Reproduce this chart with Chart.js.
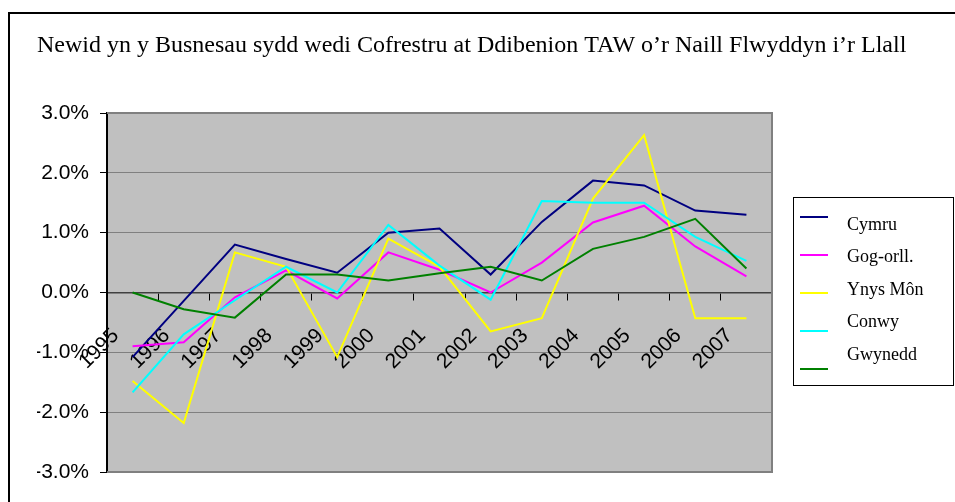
<!doctype html>
<html lang="cy">

<head>
  <meta charset="utf-8">
  <title>Newid yn y Busnesau TAW</title>
  <style>
    html, body { margin: 0; padding: 0; background: #fff; }
    canvas { display: block; }
  </style>
</head>

<body>
  <canvas id="myChart" width="955" height="502"></canvas>

  <script src="https://cdn.jsdelivr.net/npm/chart.js@4.4.2/dist/chart.umd.min.js"></script>

  <script>
    const ctx = document.getElementById('myChart');

    const years = ['1995', '1996', '1997', '1998', '1999', '2000', '2001', '2002', '2003', '2004', '2005', '2006', '2007'];

    // % change year on year
    const cymru    = [-1.08, -0.14, 0.80, 0.56, 0.33, 1.00, 1.07, 0.30, 1.18, 1.87, 1.79, 1.37, 1.30];
    const gogOrll  = [-0.90, -0.83, -0.08, 0.37, -0.10, 0.67, 0.38, 0.00, 0.50, 1.17, 1.45, 0.77, 0.27];
    const ynysMon  = [-1.48, -2.18, 0.67, 0.43, -1.08, 0.90, 0.43, -0.65, -0.43, 1.57, 2.63, -0.43, -0.43];
    const conwy    = [-1.67, -0.70, -0.13, 0.43, 0.00, 1.13, 0.45, -0.12, 1.53, 1.50, 1.50, 0.93, 0.53];
    const gwynedd  = [0.00, -0.28, -0.42, 0.30, 0.30, 0.20, 0.32, 0.43, 0.20, 0.73, 0.93, 1.23, 0.40];

    const seriesNames = ['Cymru', 'Gog-orll.', 'Ynys Môn', 'Conwy', 'Gwynedd'];
    const seriesColours = ['#000080', '#ff00ff', '#ffff00', '#00ffff', '#008000'];

    const title = 'Newid yn y Busnesau sydd wedi Cofrestru at Ddibenion TAW o\u2019r Naill Flwyddyn i\u2019r Llall';

    // grey plot area, outer frame and title, like the old Excel chart
    // (title drawn here: the built-in one gets squeezed into the plot width)
    const framePlugin = {
      id: 'frame',
      beforeDraw(chart) {
        const c = chart.ctx;
        const a = chart.chartArea;
        c.save();
        c.fillStyle = '#fff';
        c.fillRect(0, 0, chart.width, chart.height);
        c.strokeStyle = '#000';
        c.lineWidth = 2;
        c.strokeRect(9, 13, chart.width + 20, chart.height + 20);
        c.fillStyle = '#c0c0c0';
        c.fillRect(a.left, a.top, a.right - a.left, a.bottom - a.top);
        c.fillStyle = '#000';
        c.font = '24px "Liberation Serif", "Times New Roman", serif';
        c.textBaseline = 'alphabetic';
        c.fillText(title, 37, 52);
        c.restore();
      },
      beforeDatasetsDraw(chart) {
        const c = chart.ctx;
        const a = chart.chartArea;
        c.save();
        c.strokeStyle = '#808080';
        c.lineWidth = 2;
        c.beginPath();
        c.moveTo(a.left, a.top);
        c.lineTo(a.right, a.top);
        c.lineTo(a.right, a.bottom);
        c.lineTo(a.left, a.bottom);
        c.stroke();
        c.restore();
      }
    };

    // boxed legend on the right
    const legendBox = {
      id: 'legendBox',
      afterDraw(chart) {
        const c = chart.ctx;
        c.save();
        c.fillStyle = '#fff';
        c.fillRect(793, 197, 160, 188);
        c.strokeStyle = '#000';
        c.lineWidth = 1;
        c.strokeRect(793.5, 197.5, 160, 188);
        c.font = '18px "Liberation Serif", "Times New Roman", serif';
        c.textBaseline = 'middle';
        c.fillStyle = '#000';
        chart.data.datasets.forEach((ds, i) => {
          const ly = 217 + 38 * i;
          c.strokeStyle = ds.borderColor;
          c.lineWidth = 2;
          c.beginPath();
          c.moveTo(800, ly);
          c.lineTo(828, ly);
          c.stroke();
          c.fillText(ds.label, 847, 225 + 32.5 * i);
        });
        c.restore();
      }
    };

    const allSeries = [cymru, gogOrll, ynysMon, conwy, gwynedd];

    new Chart(ctx, {
      type: 'line',
      data: {
        labels: years,
        datasets: allSeries.map((d, i) => ({
          label: seriesNames[i],
          data: d,
          borderColor: seriesColours[i],
          backgroundColor: seriesColours[i],
          borderWidth: 2,
          pointRadius: 0,
          tension: 0,
          fill: false,
          order: allSeries.length - i
        }))
      },
      options: {
        responsive: false,
        animation: false,
        devicePixelRatio: 1,
        layout: {
          padding: { left: 37, right: 183, top: 113, bottom: 30 }
        },
        scales: {
          x: {
            position: { y: 0 },
            offset: true,
            afterFit: (s) => { s.height = 0; },
            grid: {
              offset: true,
              drawOnChartArea: false,
              drawTicks: true,
              tickLength: 7,
              color: '#000'
            },
            border: { color: '#404040', width: 1.5 },
            ticks: {
              autoSkip: false,
              minRotation: 45,
              maxRotation: 45,
              padding: 24,
              labelOffset: -17,
              color: '#000',
              font: { family: '"Liberation Sans", Arial, sans-serif', size: 21 }
            }
          },
          y: {
            min: -3,
            max: 3,
            afterFit: (s) => { s.width = 70; },
            grid: {
              color: '#808080',
              lineWidth: 1,
              tickLength: 7,
              tickColor: '#000'
            },
            border: { color: '#000', width: 2 },
            ticks: {
              stepSize: 1,
              padding: 11,
              color: '#000',
              font: { family: '"Liberation Sans", Arial, sans-serif', size: 21 },
              callback: (v) => v.toFixed(1) + '%'
            }
          }
        },
        plugins: {
          legend: { display: false },
          tooltip: { enabled: false },
          title: { display: false }
        }
      },
      plugins: [framePlugin, legendBox]
    });
  </script>

</body>

</html>
